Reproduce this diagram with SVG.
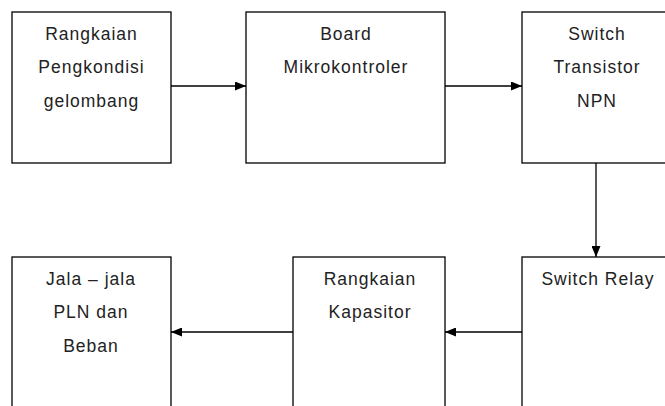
<svg xmlns="http://www.w3.org/2000/svg" width="665" height="406" viewBox="0 0 665 406">
<style>
.box{fill:#fff;stroke:#000;stroke-width:1.3}
.t{font-family:"Liberation Sans",Arial,sans-serif;font-size:17.5px;fill:#222;text-anchor:middle;letter-spacing:1px}
.c{stroke:#000;stroke-width:1.3;fill:none;marker-end:url(#ah)}
</style>
<defs>
<marker id="ah" viewBox="0 0 11 9" refX="11" refY="4.5" markerWidth="11" markerHeight="9" markerUnits="userSpaceOnUse" orient="auto">
<path d="M0,0 L11,4.5 L0,9 Z" fill="#000"/>
</marker>
</defs>
<rect width="665" height="406" fill="#fff"/>
<g id="n1"><rect class="box" x="12" y="12" width="159" height="151"/>
<text class="t" x="91.5" y="40">Rangkaian</text><text class="t" x="91.5" y="73">Pengkondisi</text><text class="t" x="91.5" y="107">gelombang</text></g>
<g id="n2"><rect class="box" x="246" y="12" width="199" height="151"/>
<text class="t" x="346" y="40">Board</text><text class="t" x="346" y="73">Mikrokontroler</text></g>
<g id="n3"><rect class="box" x="522" y="12" width="160" height="151"/>
<text class="t" x="597" y="40">Switch</text><text class="t" x="597" y="73">Transistor</text><text class="t" x="597" y="107">NPN</text></g>
<g id="n4"><rect class="box" x="12" y="257" width="159" height="160"/>
<text class="t" x="91" y="285">Jala – jala</text><text class="t" x="91" y="318">PLN dan</text><text class="t" x="91" y="352">Beban</text></g>
<g id="n5"><rect class="box" x="293" y="257" width="152" height="160"/>
<text class="t" x="370" y="285">Rangkaian</text><text class="t" x="370" y="318">Kapasitor</text></g>
<g id="n6"><rect class="box" x="522" y="257" width="160" height="160"/>
<text class="t" x="598" y="285">Switch Relay</text></g>
<g id="connectors">
<line class="c" x1="171" y1="86" x2="246" y2="86"/>
<line class="c" x1="445" y1="86" x2="522" y2="86"/>
<line class="c" x1="596" y1="163" x2="596" y2="257"/>
<line class="c" x1="522" y1="332" x2="445" y2="332"/>
<line class="c" x1="293" y1="332" x2="171" y2="332"/>
</g>
</svg>
